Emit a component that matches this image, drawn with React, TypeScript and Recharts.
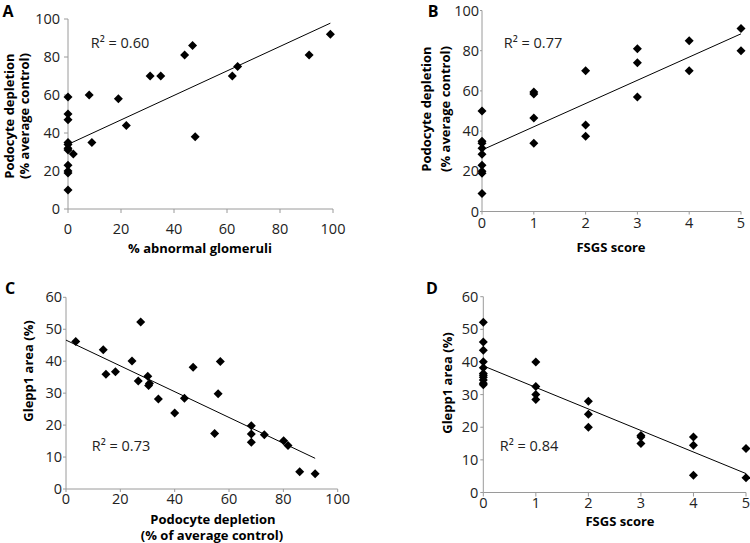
import React from 'react';
import { ScatterChart, Scatter, XAxis, YAxis, Label } from 'recharts';

// Panel A: % abnormal glomeruli vs podocyte depletion
const abnormalGlomeruliA = [0, 0, 0, 0, 0, 0, 0, 0, 0, 0, 0, 2, 8, 9, 19, 22, 31, 35, 44, 47, 48, 62, 64, 91, 99];
const depletionA = [59, 50, 47, 35, 34, 32, 31, 23, 20, 19, 10, 29, 60, 35, 58, 44, 70, 70, 81, 86, 38, 70, 75, 81, 92];
const trendXA = [0, 99];
const trendYA = [34, 97.8];

// Panel B: FSGS score vs podocyte depletion
const fsgsB = [0, 0, 0, 0, 0, 0, 0, 0, 0, 1, 1, 1, 1, 2, 2, 2, 3, 3, 3, 4, 4, 5, 5];
const depletionB = [50, 35, 34, 31.5, 28.5, 23, 20, 19, 9, 59.5, 58.5, 46.5, 34, 70, 43, 37.5, 81, 74, 57, 85, 70, 91, 80];
const trendXB = [0, 5];
const trendYB = [30.6, 88.4];

// Panel C: podocyte depletion vs Glepp1 area
const depletionC = [3.6, 13.7, 14.7, 18.2, 24.3, 27.5, 26.6, 30.1, 30.7, 30.4, 34, 40, 43.6, 46.8, 56.8, 56, 54.7, 68.2, 68.2, 68.2, 73, 80.1, 81.7, 86, 91.7];
const gleppC = [46.2, 43.6, 35.9, 36.7, 40.1, 52.3, 33.8, 35.3, 33, 32.4, 28.2, 23.8, 28.4, 38.1, 39.9, 29.8, 17.4, 19.8, 17.2, 14.6, 17, 15.1, 13.6, 5.4, 4.8];
const trendXC = [0, 91.7];
const trendYC = [46.6, 9.6];

// Panel D: FSGS score vs Glepp1 area
const fsgsD = [0, 0, 0, 0, 0, 0, 0, 0, 0, 0, 0, 1, 1, 1, 1, 2, 2, 2, 3, 3, 3, 4, 4, 4, 5, 5];
const gleppD = [52.2, 46.1, 43.6, 40.1, 38.2, 36.5, 35.9, 35.3, 34.5, 33.5, 33, 40, 32.5, 30, 28.5, 28, 24, 20, 17.5, 17, 15, 17, 14.5, 5.3, 13.5, 4.5];
const trendXD = [0, 5];
const trendYD = [38.8, 5.8];

const ticks0to100 = [0, 20, 40, 60, 80, 100];
const ticks0to60 = [0, 10, 20, 30, 40, 50, 60];
const ticks0to5 = [0, 1, 2, 3, 4, 5];

const zip = (xs: number[], ys: number[]) => xs.map((x, i) => ({ x, y: ys[i] }));

const FONT = '"Open Sans", sans-serif';
const AXIS_GRAY = '#9a9a9a';
const TEXT = '#222';

const Diamond = (props: any) => {
  const { cx, cy } = props;
  if (cx == null || cy == null) return <g />;
  const r = 4.5;
  return (
    <polygon
      points={`${cx},${cy - r} ${cx + r},${cy} ${cx},${cy + r} ${cx - r},${cy}`}
      fill="#000"
    />
  );
};
const NoShape = () => <g />;

type T = { x: number; y: number; text: string; bold?: boolean; size?: number; rotate?: boolean };

const TextLayer = ({ items }: { items: T[] }) => (
  <g>
    {items.map((t, i) => (
      <text
        key={i}
        x={t.x}
        y={t.y}
        textAnchor="middle"
        dominantBaseline="central"
        fontFamily={FONT}
        fontSize={t.size ?? 14.5}
        fontWeight={t.bold ? 700 : 400}
        fill={t.bold ? '#000' : TEXT}
        transform={t.rotate ? `rotate(-90, ${t.x}, ${t.y})` : undefined}
      >
        {t.text}
      </text>
    ))}
  </g>
);

type PanelProps = {
  margin: { top: number; right: number; bottom: number; left: number };
  xDomain: [number, number];
  yDomain: [number, number];
  xTicks: number[];
  yTicks: number[];
  points: { x: number; y: number }[];
  trend: { x: number; y: number }[];
  xTickSize: number;
  xTickMargin: number;
  yTickSize: number;
  yTickMargin: number;
  tickFont: number;
  texts: T[];
};

const Panel = (p: PanelProps) => (
  <div style={{ position: 'absolute', left: 0, top: 0 }}>
    <ScatterChart width={750} height={543} margin={p.margin}>
      <XAxis
        type="number"
        dataKey="x"
        domain={p.xDomain}
        ticks={p.xTicks}
        interval={0}
        height={30}
        stroke={AXIS_GRAY}
        tickLine={{ stroke: AXIS_GRAY }}
        tickSize={p.xTickSize}
        tickMargin={p.xTickMargin}
        tick={{ fill: TEXT, fontSize: p.tickFont, fontFamily: FONT }}
        label={<Label content={() => <TextLayer items={p.texts} />} />}
      />
      <YAxis
        type="number"
        dataKey="y"
        domain={p.yDomain}
        ticks={p.yTicks}
        interval={0}
        width={50}
        stroke={AXIS_GRAY}
        tickLine={{ stroke: AXIS_GRAY }}
        tickSize={p.yTickSize}
        tickMargin={p.yTickMargin}
        tick={{ fill: TEXT, fontSize: p.tickFont, fontFamily: FONT }}
      />
      <Scatter data={p.points} shape={<Diamond />} isAnimationActive={false} />
      <Scatter
        data={p.trend}
        line={{ stroke: '#000', strokeWidth: 1 }}
        shape={<NoShape />}
        isAnimationActive={false}
      />
    </ScatterChart>
  </div>
);

export default function App() {
  return (
    <div style={{ position: 'absolute', left: 0, top: 0, width: 750, height: 543, background: '#fff', overflow: 'hidden' }}>
      <Panel
        margin={{ top: 19, right: 417, bottom: 304, left: 18 }}
        xDomain={[0, 100]}
        yDomain={[0, 100]}
        xTicks={ticks0to100}
        yTicks={ticks0to100}
        points={zip(abnormalGlomeruliA, depletionA)}
        trend={zip(trendXA, trendYA)}
        xTickSize={4}
        xTickMargin={11}
        yTickSize={4}
        yTickMargin={4}
        tickFont={14.5}
        texts={[
          { x: 8, y: 11, text: 'A', bold: true, size: 16 },
          { x: 120, y: 42, text: 'R² = 0.60' },
          { x: 200, y: 248, text: '% abnormal glomeruli', bold: true, size: 13 },
          { x: 9, y: 116, text: 'Podocyte depletion', bold: true, size: 13, rotate: true },
          { x: 24, y: 116, text: '(% average control)', bold: true, size: 13, rotate: true },
        ]}
      />
      <Panel
        margin={{ top: 10.5, right: 9, bottom: 301.5, left: 432 }}
        xDomain={[0, 5]}
        yDomain={[0, 100]}
        xTicks={ticks0to5}
        yTicks={ticks0to100}
        points={zip(fsgsB, depletionB)}
        trend={zip(trendXB, trendYB)}
        xTickSize={3}
        xTickMargin={3}
        yTickSize={2}
        yTickMargin={1}
        tickFont={14.5}
        texts={[
          { x: 433, y: 11, text: 'B', bold: true, size: 16 },
          { x: 533, y: 42, text: 'R² = 0.77' },
          { x: 611, y: 247, text: 'FSGS score', bold: true, size: 13 },
          { x: 426, y: 109, text: 'Podocyte depletion', bold: true, size: 13, rotate: true },
          { x: 445, y: 109, text: '(% average control)', bold: true, size: 13, rotate: true },
        ]}
      />
      <Panel
        margin={{ top: 297.3, right: 412.3, bottom: 24, left: 16 }}
        xDomain={[0, 100]}
        yDomain={[0, 60]}
        xTicks={ticks0to100}
        yTicks={ticks0to60}
        points={zip(depletionC, gleppC)}
        trend={zip(trendXC, trendYC)}
        xTickSize={3}
        xTickMargin={2}
        yTickSize={3}
        yTickMargin={1}
        tickFont={14.5}
        texts={[
          { x: 10, y: 288, text: 'C', bold: true, size: 16 },
          { x: 121, y: 445, text: 'R² = 0.73' },
          { x: 213, y: 518.5, text: 'Podocyte depletion', bold: true, size: 13 },
          { x: 212, y: 534.5, text: '(% of average control)', bold: true, size: 13 },
          { x: 28, y: 371, text: 'Glepp1 area (%)', bold: true, size: 13, rotate: true },
        ]}
      />
      <Panel
        margin={{ top: 296.7, right: 4, bottom: 20.5, left: 433.3 }}
        xDomain={[0, 5]}
        yDomain={[0, 60]}
        xTicks={ticks0to5}
        yTicks={ticks0to60}
        points={zip(fsgsD, gleppD)}
        trend={zip(trendXD, trendYD)}
        xTickSize={4}
        xTickMargin={1}
        yTickSize={3}
        yTickMargin={2}
        tickFont={14.5}
        texts={[
          { x: 432, y: 288, text: 'D', bold: true, size: 16 },
          { x: 529, y: 445, text: 'R² = 0.84' },
          { x: 620, y: 521, text: 'FSGS score', bold: true, size: 13 },
          { x: 447, y: 383, text: 'Glepp1 area (%)', bold: true, size: 13, rotate: true },
        ]}
      />
    </div>
  );
}
